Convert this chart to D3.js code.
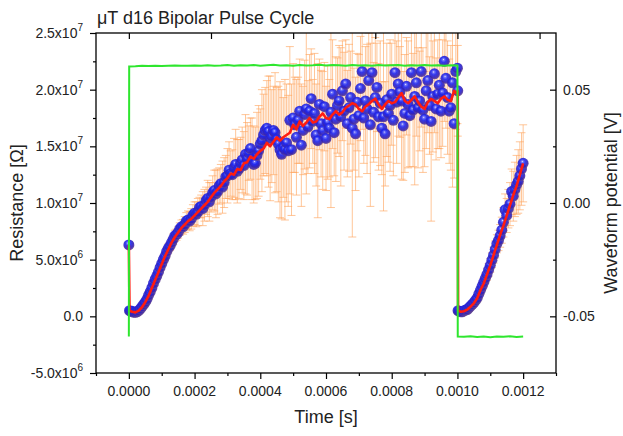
<!DOCTYPE html>
<html>
<head>
<meta charset="utf-8">
<script src="https://cdn.jsdelivr.net/npm/d3@7"></script>
<style>
  body { margin: 0; background: #fff; }
  text { font-family: "Liberation Sans", Arial, sans-serif; fill: #222; }
</style>
</head>
<body>
<svg id="chart" width="623" height="436"></svg>
<script>
// ======================
// DATA (time in µs, resistance in MΩ, potential in mV)
// ======================

// first half of the cycle (positive pulse), sampled every 5 µs
const seg1Time = [0, 2].concat(d3.range(5, 1001, 5), [1001]);
const seg1Resist = [
    6.3, 0.5,
    // 5 - 100
    0.45, 0.45, 0.35, 0.35, 0.4, 0.5, 0.65, 0.85, 1.05, 1.25,
    1.5, 1.85, 2.15, 2.5, 2.9, 3.25, 3.55, 3.9, 4.3, 4.65,
    // 105 - 200
    5.0, 5.3, 5.7, 6.0, 6.2, 6.5, 6.8, 7.1, 7.2, 7.4,
    7.7, 7.9, 7.9, 8.1, 8.4, 8.5, 8.4, 8.6, 8.9, 9.1,
    // 205 - 300
    9.0, 9.2, 9.6, 9.7, 9.5, 9.8, 10.2, 10.4, 10.1, 10.5,
    10.9, 11.1, 10.8, 11.0, 11.5, 11.7, 11.4, 11.8, 12.3, 12.4,
    // 305 - 400
    12.9, 12.6, 12.5, 13.1, 13.4, 12.8, 13.0, 13.5, 13.8, 13.3,
    14.3, 13.9, 14.4, 14.8, 13.9, 13.4, 13.5, 14.2, 14.6, 15.2,
    // 405 - 500
    15.5, 16.0, 16.4, 16.6, 16.3, 15.7, 15.9, 16.4, 16.2, 15.6,
    15.2, 14.7, 14.3, 14.9, 14.7, 15.3, 14.6, 17.3, 14.7, 17.5,
    // 505 - 600
    16.9, 15.8, 17.3, 18.1, 15.1, 16.4, 17.8, 18.3, 16.7, 18.1,
    19.2, 17.2, 17.9, 16.0, 15.5, 18.7, 17.0, 16.4, 18.5, 15.7,
    // 605 - 700
    17.1, 16.6, 18.0, 19.6, 16.2, 17.4, 18.6, 19.0, 17.6, 19.9,
    18.1, 20.5, 17.0, 18.4, 19.3, 16.6, 17.4, 16.1, 18.9, 17.7,
    // 705 - 800
    20.1, 21.6, 17.5, 19.0, 18.3, 20.8, 16.9, 21.5, 18.0, 19.3,
    20.2, 17.6, 18.8, 16.6, 17.6, 16.1, 19.1, 17.9, 18.6, 19.6,
    // 805 - 900
    17.3, 21.5, 18.9, 20.5, 19.8, 19.0, 16.8, 17.9, 20.3, 18.7,
    17.7, 21.5, 18.2, 19.4, 20.6, 18.4, 19.0, 21.6, 18.2, 17.4,
    // 905 - 1000
    19.9, 20.8, 18.6, 17.2, 19.4, 21.4, 18.3, 19.6, 20.4, 18.1,
    19.7, 22.5, 21.0, 19.3, 18.1, 18.4, 20.6, 17.0, 21.6, 21.9,
    19.9
];
const seg1Err = [
    0.1, 0.1,
    0.1, 0.1, 0.1, 0.1, 0.1, 0.1, 0.1, 0.1, 0.12, 0.15,
    0.18, 0.2, 0.2, 0.2, 0.22, 0.25, 0.28, 0.3, 0.3, 0.3,
    0.32, 0.35, 0.38, 0.4, 0.4, 0.4, 0.45, 0.5, 0.5, 0.5,
    0.55, 0.6, 0.65, 0.7, 0.75, 0.8, 0.85, 0.9, 0.95, 1.0,
    1.1, 1.2, 0.9, 1.0, 1.5, 1.4, 1.2, 1.6, 1.7, 1.3,
    1.5, 1.8, 2.1, 2.0, 1.6, 1.7, 2.3, 2.2, 1.9, 2.4,
    2.5, 2.0, 2.2, 2.6, 3.1, 2.8, 2.6, 2.3, 2.9, 3.0,
    3.5, 3.2, 2.4, 2.7, 3.6, 3.4, 3.2, 3.8, 4.0, 3.1,
    4.5, 3.6, 3.8, 4.2, 4.9, 5.5, 4.1, 3.9, 5.3, 4.6,
    5.1, 6.0, 5.7, 4.4, 6.2, 5.2, 4.9, 6.5, 5.8, 4.8,
    4.2, 5.1, 3.8, 4.6, 5.4, 3.9, 4.8, 7.5, 4.1, 5.0,
    4.4, 3.7, 5.3, 4.5, 6.8, 4.0, 4.7, 5.2, 3.9, 4.6,
    5.0, 4.3, 8.4, 4.8, 3.8, 5.5, 4.2, 4.9, 6.1, 4.4,
    5.2, 3.9, 4.7, 5.6, 4.1, 9.6, 4.5, 5.0, 4.3, 5.4,
    4.6, 5.1, 4.0, 4.8, 5.7, 4.2, 7.2, 4.9, 4.4, 5.3,
    3.9, 4.7, 5.5, 4.1, 8.3, 4.6, 5.0, 4.3, 5.8, 4.5,
    4.9, 4.2, 5.4, 4.6, 4.0, 6.9, 4.8, 5.2, 4.3, 5.6,
    4.5, 4.1, 5.0, 7.8, 4.7, 5.3, 4.4, 4.9, 5.5, 4.2,
    5.1, 4.6, 4.3, 8.8, 4.9, 5.2, 4.5, 4.8, 5.6, 4.1,
    4.7, 5.3, 4.4, 5.0, 4.6, 5.5, 9.2, 4.8, 5.1, 4.9,
    4.0
];

// smoothed trace of the first half, every 10 µs
const smooth1Time = [0, 2].concat(d3.range(10, 1001, 10), [1001]);
const seg1Smooth = [
    6.3, 0.5,
    0.4, 0.35, 0.5, 0.8, 1.25, 1.8, 2.5, 3.2, 3.9, 4.6,
    5.3, 5.9, 6.5, 7.0, 7.4, 7.8, 8.1, 8.4, 8.6, 8.9,
    9.2, 9.5, 9.8, 10.1, 10.5, 10.9, 11.2, 11.5, 11.9, 12.2,
    12.6, 12.5, 13.0, 12.9, 13.5, 13.6, 14.1, 13.9, 14.3, 14.6,
    14.8, 15.3, 15.0, 15.4, 15.8, 15.5, 15.8, 16.0, 16.2, 16.9,
    16.5, 17.2, 16.8, 17.1, 17.5, 17.1, 17.2, 17.6, 17.9, 17.5,
    17.4, 17.8, 18.1, 17.8, 18.0, 18.4, 18.6, 18.8, 18.7, 18.3,
    18.1, 18.5, 18.7, 19.0, 19.2, 18.7, 18.3, 18.7, 19.0, 18.8,
    18.9, 19.3, 19.7, 19.0, 18.8, 19.1, 19.4, 18.9, 18.5, 18.3,
    18.9, 19.2, 19.0, 18.8, 19.2, 19.4, 19.1, 19.0, 19.9, 19.6,
    19.9
];

// second half of the cycle (negative pulse)
const seg2Time = [1002].concat(d3.range(1005, 1201, 5));
const seg2Resist = [
    0.5,
    0.45, 0.4, 0.4, 0.5, 0.55, 0.6, 0.75, 0.9, 1.05, 1.2,
    1.4, 1.6, 1.95, 2.3, 2.65, 3.0, 3.35, 3.7, 4.1, 4.5,
    4.95, 5.4, 5.9, 6.4, 6.7, 7.1, 7.6, 8.3, 9.4, 8.9,
    9.5, 9.9, 11.0, 10.6, 11.2, 11.6, 11.9, 12.4, 13.0, 13.5
];
const seg2Err = [
    0.1,
    0.1, 0.1, 0.1, 0.1, 0.12, 0.15, 0.18, 0.2, 0.2, 0.2,
    0.25, 0.3, 0.3, 0.3, 0.35, 0.4, 0.45, 0.5, 0.55, 0.6,
    0.65, 0.7, 0.75, 0.8, 0.9, 1.0, 1.15, 1.3, 1.4, 1.5,
    1.7, 1.9, 2.0, 2.2, 2.4, 2.6, 2.8, 3.0, 3.2, 3.4
];
const smooth2Time = [1002].concat(d3.range(1010, 1201, 10));
const seg2Smooth = [
    0.5, 0.4, 0.45, 0.6, 0.85, 1.15, 1.6, 2.3, 2.9, 3.7, 4.5,
    5.4, 6.3, 7.2, 8.0, 8.9, 9.8, 10.7, 11.5, 12.5, 13.5
];

// waveform potential (right axis)
const waveTime = [0, 1].concat(d3.range(20, 1001, 20), [1001], d3.range(1020, 1201, 20));
const waveMv = [
    -58.9, 60.2,
    60.3, 60.5, 60.4, 60.6, 60.4, 60.6, 60.7, 60.5, 60.6, 60.7,
    60.5, 60.8, 60.6, 60.7, 60.9, 60.6, 60.8, 60.7, 60.9, 60.6,
    60.8, 61.0, 60.7, 60.8, 60.6, 60.9, 60.7, 60.8, 61.0, 60.7,
    60.9, 60.8, 60.6, 60.9, 60.7, 60.8, 60.6, 60.9, 60.7, 60.8,
    60.9, 60.6, 60.8, 60.7, 60.9, 60.7, 60.8, 60.6, 60.8, 60.7,
    -58.9,
    -59.0, -58.8, -59.1, -58.9, -59.2, -58.9, -59.0, -58.8, -59.1, -58.9
];

// ticks
const xTicks = [0, 0.0002, 0.0004, 0.0006, 0.0008, 0.0010, 0.0012];
const xTickLabels = ["0.0000", "0.0002", "0.0004", "0.0006", "0.0008", "0.0010", "0.0012"];
const xMinorTicks = [-0.0001, 0.0001, 0.0003, 0.0005, 0.0007, 0.0009, 0.0011, 0.0013];
const topTicks = [0, 0.00025, 0.0005, 0.00075, 0.001, 0.00125];
const yTicks = [-5e6, 0, 5e6, 1e7, 1.5e7, 2e7, 2.5e7];
const yTickLabels = [["-5.0x10", "6"], ["0.0", ""], ["5.0x10", "6"], ["1.0x10", "7"],
                     ["1.5x10", "7"], ["2.0x10", "7"], ["2.5x10", "7"]];
const yMinorTicks = [-2.5e6, 2.5e6, 7.5e6, 1.25e7, 1.75e7, 2.25e7];
const rTicks = [-0.05, 0, 0.05];
const rTickLabels = ["-0.05", "0.00", "0.05"];
const rMinorTicks = [-0.025, 0.025];

// ======================
// SETUP
// ======================

const svg = d3.select("#chart");
const plot = { left: 96, right: 556, top: 33, bottom: 373 };

const x = d3.scaleLinear().domain([-0.0001, 0.0013]).range([plot.left, plot.right]);
const yL = d3.scaleLinear().domain([-5e6, 2.5e7]).range([plot.bottom, plot.top]);
const yR = d3.scaleLinear().domain([-0.075, 0.075]).range([plot.bottom, plot.top]);

const toPoints = (times, vals, errs) => times.map((t, i) => ({
    t: t * 1e-6,
    r: vals[i] * 1e6,
    e: errs ? errs[i] * 1e6 : 0
}));

const points = toPoints(seg1Time, seg1Resist, seg1Err)
    .concat(toPoints(seg2Time, seg2Resist, seg2Err));
const smooth = toPoints(smooth1Time, seg1Smooth).concat(toPoints(smooth2Time, seg2Smooth));
const wave = waveTime.map((t, i) => ({ t: t * 1e-6, v: waveMv[i] / 1000 }));

const defs = svg.append("defs");
defs.append("clipPath").attr("id", "clip")
    .append("rect")
    .attr("x", plot.left).attr("y", plot.top)
    .attr("width", plot.right - plot.left).attr("height", plot.bottom - plot.top);

// shaded ball marker
const grad = defs.append("radialGradient").attr("id", "ball")
    .attr("cx", "0.45").attr("cy", "0.4").attr("r", "0.6")
    .attr("fx", "0.42").attr("fy", "0.33");
grad.append("stop").attr("offset", "0").attr("stop-color", "#e6e8ff");
grad.append("stop").attr("offset", "0.14").attr("stop-color", "#6a70ff");
grad.append("stop").attr("offset", "0.4").attr("stop-color", "#1c26f2");
grad.append("stop").attr("offset", "0.78").attr("stop-color", "#3422b4");
grad.append("stop").attr("offset", "1").attr("stop-color", "#664890");

const plotG = svg.append("g").attr("clip-path", "url(#clip)");

// ======================
// ERROR BARS
// ======================

const capW = 4;
plotG.append("g")
    .attr("stroke", "#ffa35a")
    .attr("stroke-opacity", 0.62)
    .attr("stroke-width", 1)
    .attr("fill", "none")
    .selectAll(".err")
    .data(points)
    .enter()
    .append("path")
    .attr("class", "err")
    .attr("d", d => {
        const px = x(d.t);
        const lo = yL(d.r - d.e), hi = yL(d.r + d.e);
        return `M${px},${lo}V${hi}M${px - capW},${hi}H${px + capW}M${px - capW},${lo}H${px + capW}`;
    });

// ======================
// BALLS, SMOOTH LINE, WAVEFORM
// ======================

plotG.append("g").selectAll(".dot")
    .data(points)
    .enter()
    .append("circle")
    .attr("class", "dot")
    .attr("cx", d => x(d.t))
    .attr("cy", d => yL(d.r))
    .attr("r", 5.5)
    .attr("fill", "url(#ball)")
    .attr("fill-opacity", 0.9);

plotG.append("path")
    .datum(smooth)
    .attr("fill", "none")
    .attr("stroke", "#ff1c10")
    .attr("stroke-width", 2.6)
    .attr("stroke-linejoin", "round")
    .attr("d", d3.line().x(d => x(d.t)).y(d => yL(d.r)));

plotG.append("path")
    .datum(wave)
    .attr("fill", "none")
    .attr("stroke", "#2ee62e")
    .attr("stroke-width", 2)
    .attr("d", d3.line().x(d => x(d.t)).y(d => yR(d.v)));

// ======================
// AXES
// ======================

function tidy(g) {
    g.select(".domain").remove();
    g.selectAll("line").attr("stroke", "#000").attr("stroke-width", 1.2);
}

svg.append("g").attr("transform", `translate(0,${plot.bottom})`)
    .call(d3.axisBottom(x).tickValues(xTicks).tickSize(6).tickFormat("")).call(tidy);
svg.append("g").attr("transform", `translate(0,${plot.bottom})`)
    .call(d3.axisBottom(x).tickValues(xMinorTicks).tickSize(3).tickFormat("")).call(tidy);
svg.append("g").attr("transform", `translate(0,${plot.top})`)
    .call(d3.axisTop(x).tickValues(topTicks).tickSize(-6).tickFormat("")).call(tidy);
svg.append("g").attr("transform", `translate(${plot.left},0)`)
    .call(d3.axisLeft(yL).tickValues(yTicks).tickSize(6).tickFormat("")).call(tidy);
svg.append("g").attr("transform", `translate(${plot.left},0)`)
    .call(d3.axisLeft(yL).tickValues(yMinorTicks).tickSize(3).tickFormat("")).call(tidy);
svg.append("g").attr("transform", `translate(${plot.right},0)`)
    .call(d3.axisRight(yR).tickValues(rTicks).tickSize(-6).tickFormat("")).call(tidy);
svg.append("g").attr("transform", `translate(${plot.right},0)`)
    .call(d3.axisRight(yR).tickValues(rMinorTicks).tickSize(-3).tickFormat("")).call(tidy);

svg.append("rect")
    .attr("x", plot.left).attr("y", plot.top)
    .attr("width", plot.right - plot.left).attr("height", plot.bottom - plot.top)
    .attr("fill", "none").attr("stroke", "#000").attr("stroke-width", 1.3);

// tick labels
svg.append("g").selectAll("text")
    .data(xTicks)
    .enter()
    .append("text")
    .attr("x", d => x(d))
    .attr("y", plot.bottom + 23)
    .attr("text-anchor", "middle")
    .attr("font-size", 14)
    .text((d, i) => xTickLabels[i]);

const yLab = svg.append("g").selectAll("text")
    .data(yTicks)
    .enter()
    .append("text")
    .attr("x", 83)
    .attr("y", d => yL(d) + 5)
    .attr("text-anchor", "end")
    .attr("font-size", 14);
yLab.append("tspan").text((d, i) => yTickLabels[i][0]);
yLab.append("tspan")
    .attr("dy", -7)
    .attr("font-size", 10)
    .text((d, i) => yTickLabels[i][1]);

svg.append("g").selectAll("text")
    .data(rTicks)
    .enter()
    .append("text")
    .attr("x", plot.right + 7)
    .attr("y", d => yR(d) + 5)
    .attr("font-size", 14)
    .text((d, i) => rTickLabels[i]);

// titles
svg.append("text")
    .attr("x", 97).attr("y", 24)
    .attr("font-size", 18)
    .text("μT d16 Bipolar Pulse Cycle");

svg.append("text")
    .attr("x", (plot.left + plot.right) / 2).attr("y", 423)
    .attr("text-anchor", "middle")
    .attr("font-size", 18)
    .text("Time [s]");

svg.append("text")
    .attr("transform", `translate(23,${(plot.top + plot.bottom) / 2}) rotate(-90)`)
    .attr("text-anchor", "middle")
    .attr("font-size", 18)
    .text("Resistance [Ω]");

svg.append("text")
    .attr("transform", `translate(617,${(plot.top + plot.bottom) / 2}) rotate(-90)`)
    .attr("text-anchor", "middle")
    .attr("font-size", 18)
    .text("Waveform potential [V]");
</script>
</body>
</html>
